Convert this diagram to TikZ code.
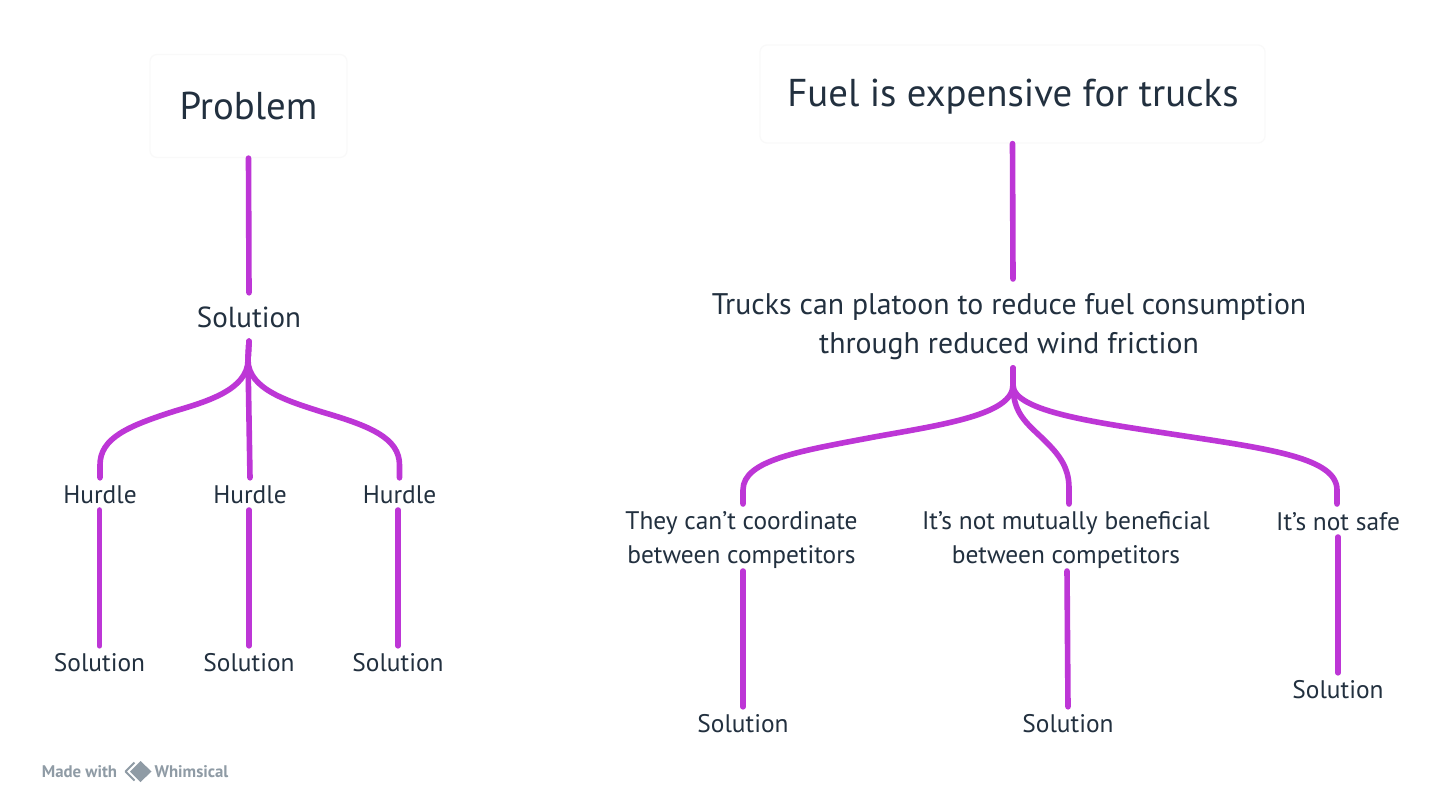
\documentclass[tikz,border=0pt]{standalone}
\usepackage{fontspec}
\setmainfont{PT Sans}
\usepackage{xcolor}
\usetikzlibrary{calc,positioning}
\definecolor{linkpurple}{HTML}{BD36D6}
\definecolor{inkdark}{HTML}{22303F}
\definecolor{markgrey}{HTML}{8F9BA5}
\definecolor{boxedge}{HTML}{F9F9F9}
\newcommand{\labelsize}{\fontsize{25.4}{34}\selectfont}
\newcommand{\stemsize}{\fontsize{29.8}{39}\selectfont}
\newcommand{\headsize}{\fontsize{38.8}{44}\selectfont}
\newcommand{\marksize}{\fontsize{16.8}{18}\selectfont\bfseries}

\tikzset{
  link/.style={line width=5.6pt,linkpurple,line cap=round},
  headbox/.style={draw=boxedge,line width=1.2pt,fill=white,rounded corners=7pt,
                  text=inkdark,font=\headsize,inner sep=0pt},
  stem/.style={text=inkdark,font=\stemsize,align=center,inner sep=0pt},
  leaf/.style={text=inkdark,font=\labelsize,align=center,inner sep=0pt},
  markword/.style={text=markgrey,font=\marksize,inner sep=0pt}
}

\begin{document}
\begin{tikzpicture}[x=1pt,y=-1pt]
  \useasboundingbox (0,0) rectangle (1456,803);
  \fill[white] (0,0) rectangle (1456,803);

  % left tree
  \node[headbox,minimum width=197pt,minimum height=103pt] (prob) at (248.5,106) {Problem};
  \node[stem,font=\fontsize{29}{39}\selectfont,minimum height=48pt] (sol) at (249,317) {Solution};
  \foreach \nm/\xx/\yy in {hurA/100/495,hurB/250/495,hurC/399.5/495}
    \node[leaf,minimum height=34pt] (\nm) at (\xx,\yy) {Hurdle};
  \foreach \nm/\xx in {solA/99.5,solB/249,solC/398}
    \node[leaf,minimum height=34pt] (\nm) at (\xx,663) {Solution};

  \draw[link] (prob.south) -- (sol.north);
  \draw[link] (sol.south) -- (248,360) .. controls (248,390) and (205,402) .. (175,411)
    .. controls (128,426) and (100,438) .. (100,465) -- (hurA.north);
  \draw[link] (sol.south) -- (248,360) .. controls (248,390) and (291,402) .. (322,412)
    .. controls (370,426) and (399.5,438) .. (399.5,465) -- (hurC.north);
  \draw[link] (sol.south) -- (248,360) -- (hurB.north);
  \draw[link] (99.5,510) -- (solA.north);
  \draw[link] (249,510) -- (solB.north);
  \draw[link] (398,510) -- (solC.north);

  % right tree
  \node[headbox,minimum width=505pt,minimum height=98pt] (fuel) at (1012.5,94) {};
  \node[text=inkdark,font=\headsize,inner sep=0pt] (fueltxt) at (1013,97) {Fuel is expensive for trucks};
  \node[stem,minimum height=86pt] (trucks) at (1009,327) {Trucks can platoon to reduce fuel consumption\\through reduced wind friction};
  \node[leaf] (coord) at (741.5,540.5) {They can’t coordinate\\ between competitors};
  \node[leaf] (mutual) at (1066,540.5) {It’s not mutually beneficial\\between competitors};
  \node[leaf] (safe) at (1338,522) {It’s not safe};
  \node[leaf,minimum height=34pt] (solD) at (743,724) {Solution};
  \node[leaf,minimum height=34pt] (solE) at (1068,724) {Solution};
  \node[leaf,minimum height=34pt] (solF) at (1338,690) {Solution};

  \coordinate (trucksIn) at (1013,279);
  \coordinate (trucksOut) at (1013,368);
  \coordinate (coordIn) at (743,504);
  \coordinate (coordOut) at (743,571);
  \coordinate (mutualIn) at (1069,504);
  \coordinate (mutualOut) at (1067,571);
  \coordinate (safeIn) at (1337,504);
  \coordinate (safeOut) at (1338,537);

  \draw[link] (fuel.south) -- (trucksIn);
  \draw[link] (trucksOut) -- (1013,385) .. controls (1013,415) and (940,425) .. (874,437)
    .. controls (800,451) and (743,460) .. (743,490) -- (coordIn);
  \draw[link] (trucksOut) -- (1013,385) .. controls (1013,411) and (1024,421) .. (1040,436)
    .. controls (1058,453) and (1069,466) .. (1069,488) -- (mutualIn);
  \draw[link] (trucksOut) -- (1013,385) .. controls (1013,412) and (1100,423) .. (1178,435)
    .. controls (1270,449) and (1337,458) .. (1337,490) -- (safeIn);
  \draw[link] (coordOut) -- (solD.north);
  \draw[link] (mutualOut) -- (solE.north);
  \draw[link] (safeOut) -- (solF.north);

  % watermark
  \node[markword] (made) at (79.5,772) {Made with};
  \draw[markgrey,line width=2pt,line join=round] (134.5,762.5) -- (125.5,771.5) -- (134.5,780.5);
  \fill[markgrey] (140.5,761) -- (151.5,771.5) -- (140.5,782) -- (130,771.5) -- cycle;
  \node[markword] (whim) at (191.5,772) {Whimsical};
\end{tikzpicture}
\end{document}
